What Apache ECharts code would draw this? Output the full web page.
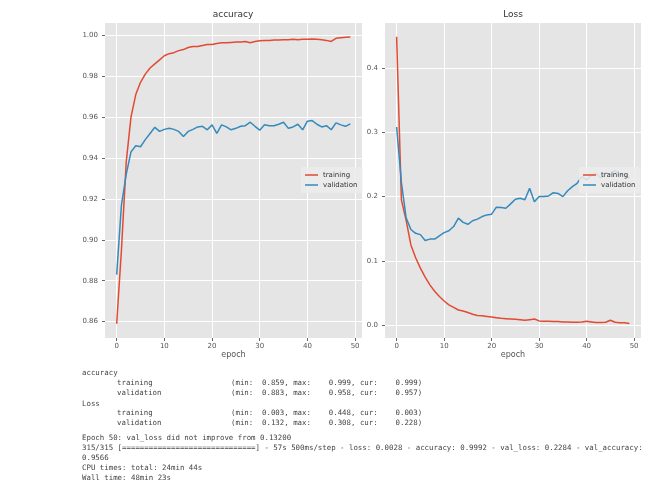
<!DOCTYPE html>
<html><head><meta charset="utf-8">
<script src="https://cdn.jsdelivr.net/npm/echarts@6/dist/echarts.min.js"></script>
<style>html,body{margin:0;padding:0;background:#fff}#c{width:657px;height:495px}</style>
</head><body><div id="c"></div>
<script>
// ---- data ----
const accTrain = [0.859,0.895,0.938,0.960,0.971,0.977,0.981,0.984,0.986,0.988,
  0.990,0.991,0.9915,0.9925,0.993,0.994,0.9945,0.9945,0.995,0.9955,
  0.9955,0.996,0.9963,0.9963,0.9965,0.9967,0.9967,0.997,0.9963,0.997,
  0.9973,0.9975,0.9975,0.9977,0.9977,0.9978,0.9978,0.998,0.9978,0.998,
  0.998,0.9982,0.998,0.9978,0.9975,0.997,0.9985,0.9988,0.999,0.9992];
const accVal = [0.883,0.917,0.932,0.943,0.946,0.9455,0.949,0.952,0.955,0.953,
  0.954,0.9545,0.954,0.953,0.9505,0.953,0.954,0.9552,0.9555,0.9538,
  0.9562,0.952,0.9562,0.9552,0.9538,0.9545,0.9555,0.9558,0.9575,0.9555,
  0.9536,0.9562,0.9558,0.9558,0.9565,0.9575,0.9545,0.9552,0.9565,0.9538,
  0.958,0.9583,0.9565,0.9552,0.9558,0.9538,0.9572,0.9562,0.9555,0.9567];
const lossTrain = [0.448,0.195,0.163,0.125,0.105,0.089,0.075,0.063,0.053,0.045,
  0.038,0.032,0.028,0.024,0.0225,0.020,0.0175,0.0155,0.015,0.014,
  0.013,0.012,0.011,0.0105,0.010,0.0095,0.009,0.008,0.009,0.010,
  0.007,0.0065,0.0065,0.006,0.006,0.0055,0.0055,0.005,0.005,0.0055,
  0.0065,0.0055,0.0045,0.0045,0.005,0.008,0.005,0.004,0.004,0.003];
const lossVal = [0.308,0.222,0.167,0.149,0.143,0.141,0.132,0.134,0.134,0.139,
  0.144,0.147,0.1535,0.1665,0.160,0.157,0.1625,0.165,0.169,0.1716,
  0.1727,0.1836,0.183,0.182,0.1887,0.196,0.1975,0.195,0.213,0.192,
  0.200,0.200,0.201,0.206,0.205,0.200,0.209,0.2155,0.2207,0.231,
  0.226,0.233,0.236,0.229,0.238,0.234,0.241,0.233,0.236,0.228];
const xTicks = [0,10,20,30,40,50];
const accTicks = [0.86,0.88,0.90,0.92,0.94,0.96,0.98,1.00];
const lossTicks = [0.0,0.1,0.2,0.3,0.4];
const seriesNames = ['training','validation'];
const titles = ['accuracy','Loss'];
const logLines = {
  accHead: 'accuracy',
  lossHead: 'Loss',
  names: ['training','validation'],
  accStats: ['0.859, max:    0.999, cur:    0.999)','0.883, max:    0.958, cur:    0.957)'],
  lossStats: ['0.003, max:    0.448, cur:    0.003)','0.132, max:    0.308, cur:    0.228)'],
  minLabel: '(min:',
  epoch: 'Epoch 50: val_loss did not improve from 0.13200',
  progress: '315/315 [==============================] - 57s 500ms/step - loss: 0.0028 - accuracy: 0.9992 - val_loss: 0.2284 - val_accuracy:',
  progress2: '0.9566',
  cpu: 'CPU times: total: 24min 44s',
  wall: 'Wall time: 48min 23s'
};

// ---- chart ----
const RED = '#E24A33', BLUE = '#348ABD';
const FF = 'DejaVu Sans';
const toPairs = arr => arr.map((v, i) => [i, v]);

function xAxis(g) {
  return {
    gridIndex: g, type: 'value', min: -2.45, max: 51.45,
    name: 'epoch', nameLocation: 'middle', nameGap: 13, nameMoveOverlap: false,
    nameTextStyle: { fontSize: 8, color: '#555', fontFamily: FF },
    axisLine: { show: false, onZero: false },
    axisTick: { show: true, length: 3, lineStyle: { color: '#666' }, customValues: xTicks },
    axisLabel: { customValues: xTicks, fontSize: 7, color: '#555', margin: 5, fontFamily: FF },
    splitLine: { show: true, lineStyle: { color: '#fff', width: 1 } }
  };
}
function yAxis(g, min, max, ticks, dec) {
  return {
    gridIndex: g, type: 'value', min: min, max: max,
    axisLine: { show: false, onZero: false },
    axisTick: { show: true, length: 3, lineStyle: { color: '#666' }, customValues: ticks },
    axisLabel: { customValues: ticks, fontSize: 7, color: '#555', margin: 7, fontFamily: FF,
      formatter: v => Number(v).toFixed(dec) },
    splitLine: { show: true, lineStyle: { color: '#fff', width: 1 } }
  };
}
function line(name, data, g, color) {
  return {
    type: 'line', name: name, xAxisIndex: g, yAxisIndex: g, data: toPairs(data),
    showSymbol: false, symbol: 'none', smooth: false, animation: false,
    lineStyle: { color: color, width: 1.5 }, itemStyle: { color: color }
  };
}
function legend(left) {
  return {
    data: seriesNames, orient: 'vertical', left: left, top: 167,
    icon: 'rect', itemWidth: 13, itemHeight: 1.5, itemGap: 2,
    padding: [4, 5, 4, 4], backgroundColor: 'rgba(236,236,236,0.85)', borderRadius: 2,
    textStyle: { fontSize: 7, color: '#333', fontFamily: FF, lineHeight: 8 },
    selectedMode: false
  };
}
const mono = '7.4px "DejaVu Sans Mono"';
function txt(x, y, s) {
  return { type: 'text', x: x, y: y, silent: true,
    style: { text: s, font: mono, fill: '#444', verticalAlign: 'middle', align: 'left' } };
}
const graphics = [
  txt(82, 373, logLines.accHead),
  txt(117, 383, logLines.names[0]), txt(231, 383, logLines.minLabel), txt(262, 383, logLines.accStats[0]),
  txt(117, 393, logLines.names[1]), txt(231, 393, logLines.minLabel), txt(262, 393, logLines.accStats[1]),
  txt(82, 404, logLines.lossHead),
  txt(117, 413, logLines.names[0]), txt(231, 413, logLines.minLabel), txt(262, 413, logLines.lossStats[0]),
  txt(117, 423, logLines.names[1]), txt(231, 423, logLines.minLabel), txt(262, 423, logLines.lossStats[1]),
  txt(82, 438, logLines.epoch),
  txt(82, 448, logLines.progress),
  txt(82, 458, logLines.progress2),
  txt(82, 468, logLines.cpu),
  txt(82, 478, logLines.wall)
];

const chart = echarts.init(document.getElementById('c'));
chart.setOption({
  backgroundColor: '#fff',
  animation: false,
  textStyle: { fontFamily: FF },
  title: [
    { text: titles[0], left: 233, top: 10, textAlign: 'center', padding: 0,
      textStyle: { fontSize: 9, fontWeight: 'normal', color: '#333', fontFamily: FF } },
    { text: titles[1], left: 513, top: 10, textAlign: 'center', padding: 0,
      textStyle: { fontSize: 9, fontWeight: 'normal', color: '#333', fontFamily: FF } }
  ],
  grid: [
    { left: 105, top: 23, width: 257, height: 315, show: true, backgroundColor: '#E5E5E5', borderWidth: 0 },
    { left: 385, top: 23, width: 256, height: 315, show: true, backgroundColor: '#E5E5E5', borderWidth: 0 }
  ],
  xAxis: [xAxis(0), xAxis(1)],
  yAxis: [yAxis(0, 0.852, 1.006, accTicks, 2), yAxis(1, -0.0195, 0.4695, lossTicks, 1)],
  legend: [legend(301), legend(579)],
  series: [
    line(seriesNames[0], accTrain, 0, RED),
    line(seriesNames[1], accVal, 0, BLUE),
    line(seriesNames[0], lossTrain, 1, RED),
    line(seriesNames[1], lossVal, 1, BLUE)
  ],
  graphic: graphics
});
</script>
</body></html>
